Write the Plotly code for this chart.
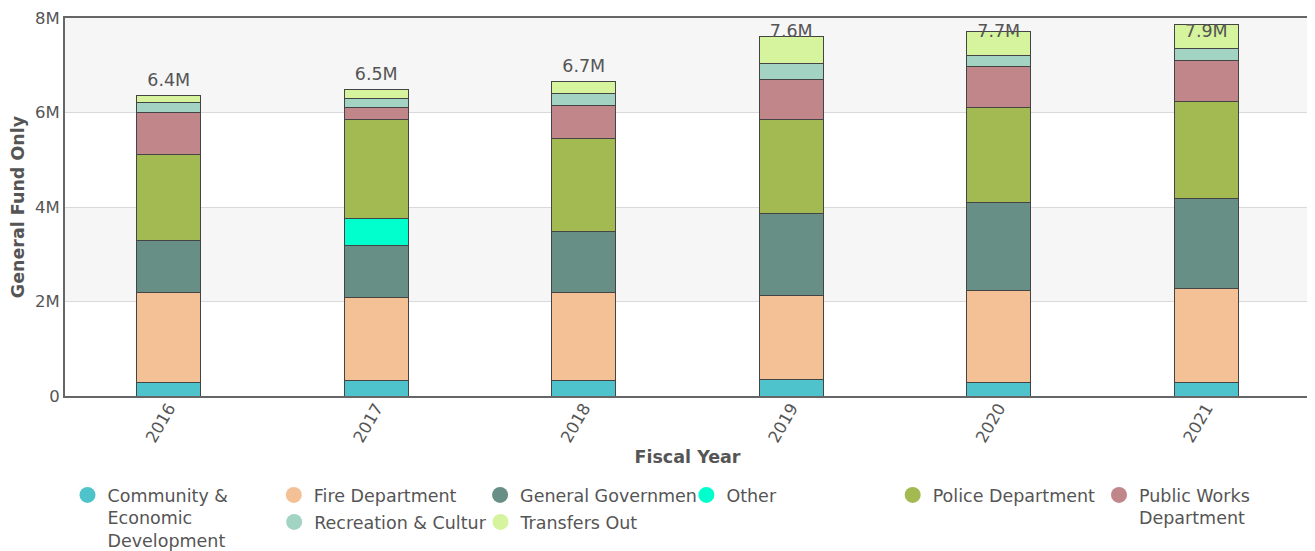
import plotly.graph_objects as go

# ---------------- data ----------------
years = ["2016", "2017", "2018", "2019", "2020", "2021"]

community = [290000, 320000, 320000, 345000, 290000, 290000]
fire = [1900000, 1770000, 1870000, 1775000, 1940000, 1990000]
general_gov = [1110000, 1090000, 1290000, 1750000, 1870000, 1900000]
other = [None, 570000, None, None, None, None]
police = [1820000, 2110000, 1970000, 1990000, 2000000, 2060000]
public_works = [870000, 240000, 700000, 840000, 880000, 860000]
recreation = [220000, 190000, 260000, 330000, 220000, 260000]
transfers = [150000, 200000, 250000, 570000, 520000, 510000]

series_names = ["Community & Economic Development", "Fire Department", "General Government",
                "Other", "Police Department", "Public Works Department",
                "Recreation & Culture", "Transfers Out"]
legend_labels = ["Community &<br>Economic<br>Development", "Fire Department", "General Governmen",
                 "Other", "Police Department", "Public Works<br>Department",
                 "Recreation & Cultur", "Transfers Out"]
series_values = [community, fire, general_gov, other, police, public_works, recreation, transfers]
colors = ["#4FC3CC", "#F4C096", "#678F86", "#00FFCC", "#A3B951", "#C1868A", "#A3D3C3", "#D6F49D"]

y_ticks = [0, 2000000, 4000000, 6000000, 8000000]
y_tick_labels = ["0", "2M", "4M", "6M", "8M"]

TXT = "#555555"
FONT = "DejaVu Sans"

fig = go.Figure()

for name, vals, col in zip(series_names, series_values, colors):
    fig.add_trace(go.Bar(
        x=years, y=vals, name=name, marker=dict(color=col, line=dict(color="#444444", width=1)),
        showlegend=False, hoverinfo="x+y+name"))

# legend entries (circles)
for i, (lab, col) in enumerate(zip(legend_labels, colors)):
    fig.add_trace(go.Scatter(
        x=[None], y=[None], mode="markers", name=lab,
        marker=dict(color=col, size=16, symbol="circle", line=dict(width=0)),
        legend="legend" if i < 6 else "legend2"))

# totals
totals = [sum(v[i] or 0 for v in series_values) for i in range(len(years))]
label_offset = 290000
label_cap = 7690000
fig.add_trace(go.Scatter(
    x=years, y=[min(t + label_offset, label_cap) for t in totals],
    mode="text", text=[f"{t/1e6:.1f}M" for t in totals],
    textposition="middle center", textfont=dict(size=17.5, color=TXT, family=FONT),
    showlegend=False, hoverinfo="skip", cliponaxis=False))

# background bands
shapes = []
for i in range(len(y_ticks) - 1):
    if i % 2 == 1:
        shapes.append(dict(type="rect", xref="paper", yref="y", x0=0, x1=1,
                           y0=y_ticks[i], y1=y_ticks[i + 1], fillcolor="#F6F6F6",
                           line=dict(width=0), layer="below"))

legend_common = dict(orientation="h", entrywidth=161.3, entrywidthmode="pixels",
                     font=dict(family=FONT, size=17.5, color=TXT), valign="top",
                     bgcolor="rgba(0,0,0,0)", xanchor="left", yanchor="top",
                     itemwidth=30, tracegroupgap=0, traceorder="normal")

fig.update_layout(
    width=1307, height=543,
    margin=dict(l=57, r=5, t=10, b=155, autoexpand=False),
    barmode="stack", bargap=0.69,
    plot_bgcolor="white", paper_bgcolor="white",
    font=dict(family=FONT, color=TXT, size=16),
    shapes=shapes,
    legend=dict(x=0.002, y=-0.2143, **legend_common),
    legend2=dict(x=0.168, y=-0.2858, **legend_common),
    xaxis=dict(
        type="category", range=[-0.5, 5.5], tickangle=-60,
        tickfont=dict(family=FONT, size=16.5, color=TXT),
        showline=True, mirror=True, linecolor="#666666", linewidth=2,
        ticks="", showgrid=False, ticklabelstandoff=-6,
        title=dict(text="<b>Fiscal Year</b>", font=dict(family=FONT, size=17.5, color=TXT), standoff=6)),
    yaxis=dict(
        range=[0, 8000000], tickvals=y_ticks, ticktext=y_tick_labels,
        tickfont=dict(family=FONT, size=16.5, color=TXT),
        showline=True, mirror=True, linecolor="#666666", linewidth=2,
        gridcolor="#D9D9D9", gridwidth=1, zeroline=False, ticks="",
        title=dict(text="<b>General Fund Only</b>", font=dict(family=FONT, size=17.5, color=TXT), standoff=8)),
)

fig.write_html("out.html")
